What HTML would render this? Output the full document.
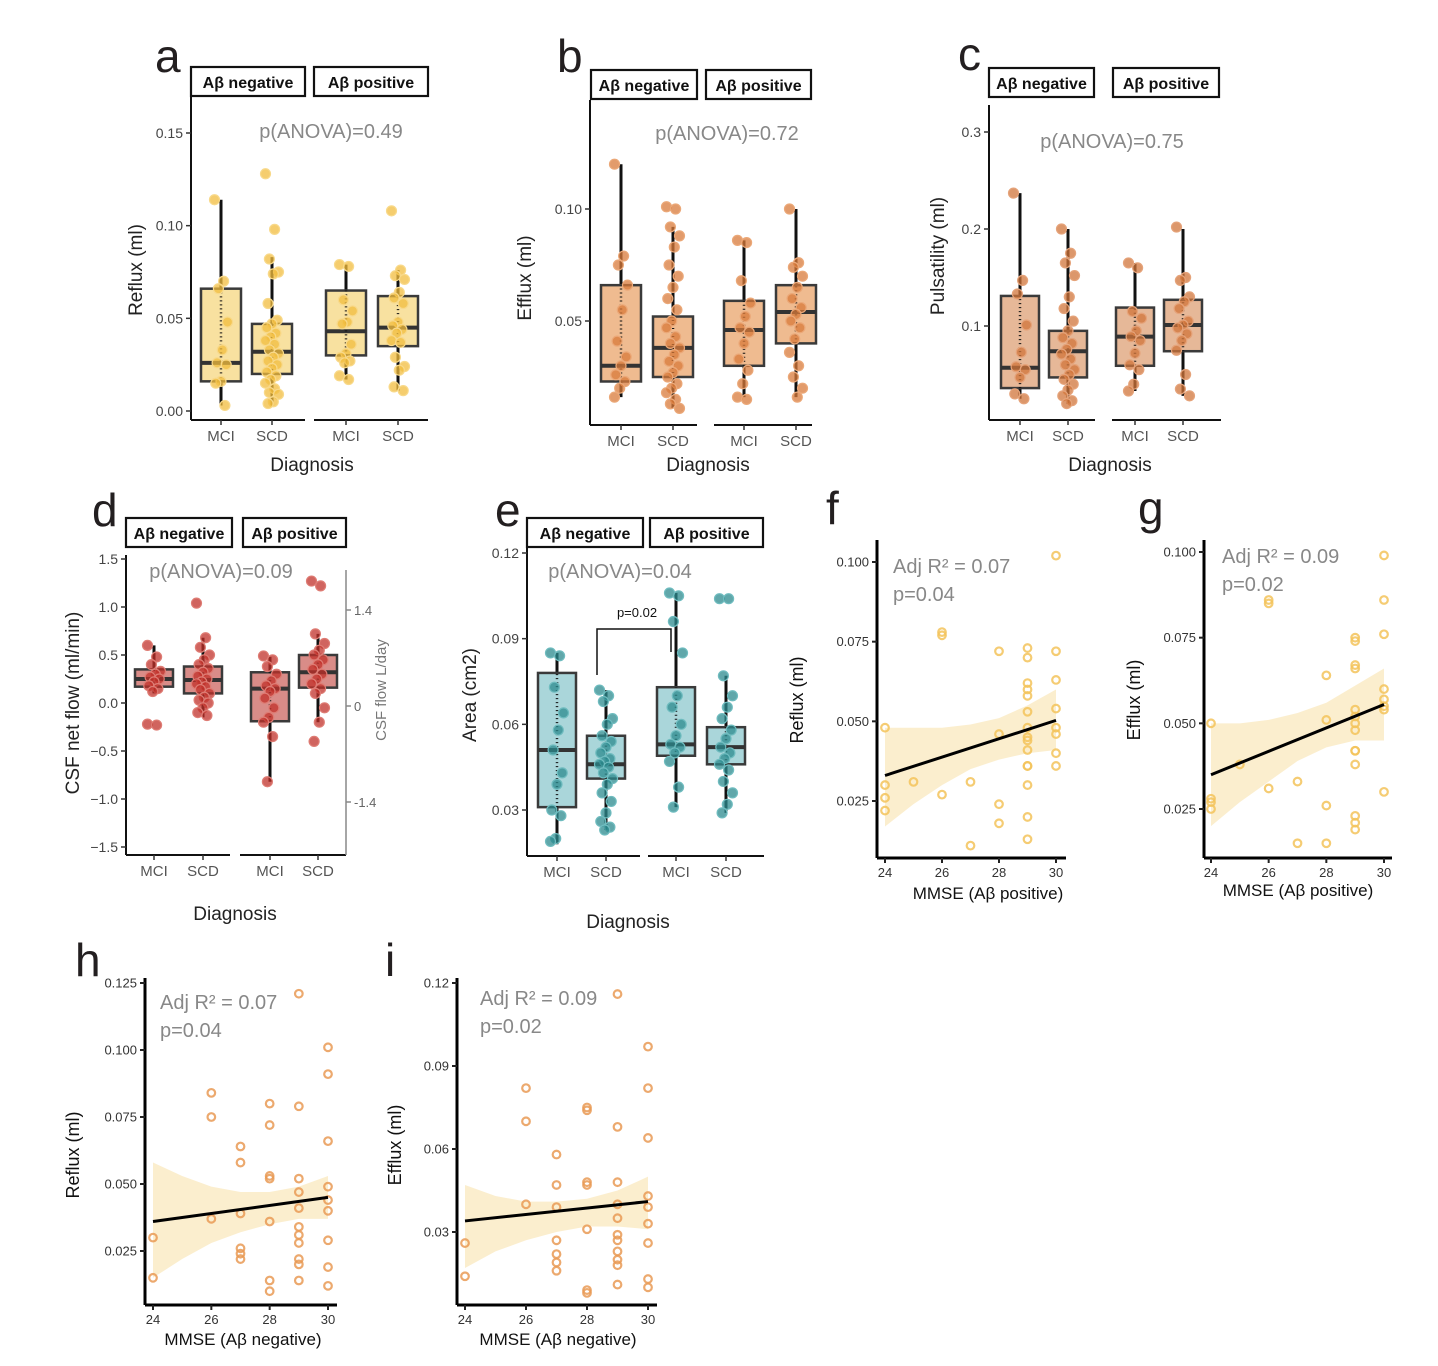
<!DOCTYPE html>
<html><head><meta charset="utf-8"><style>
html,body{margin:0;padding:0;background:#fff;}
svg{display:block;font-family:"Liberation Sans",sans-serif;}
</style></head><body>
<svg id="fig" width="1438" height="1366" viewBox="0 0 1438 1366" xmlns="http://www.w3.org/2000/svg"></svg>
<script>
// ---------- DATA ----------
const boxCategories = ["MCI","SCD","MCI","SCD"];
const facetLabels = ["Aβ negative","Aβ positive"];
// box stats per group: [whiskerLow, q1, median, q3, whiskerHigh]
const aBoxes = [[0.003,0.016,0.026,0.066,0.114],[0.003,0.020,0.032,0.047,0.083],[0.017,0.030,0.043,0.065,0.079],[0.011,0.035,0.045,0.062,0.076]];
const aPoints = [
 [0.114,0.070,0.066,0.048,0.033,0.026,0.025,0.016,0.015,0.003],
 [0.128,0.098,0.082,0.075,0.074,0.058,0.049,0.047,0.045,0.042,0.040,0.038,0.036,0.033,0.031,0.029,0.027,0.025,0.023,0.021,0.019,0.017,0.015,0.012,0.010,0.009,0.005,0.004],
 [0.079,0.078,0.060,0.054,0.048,0.047,0.036,0.031,0.029,0.027,0.026,0.019,0.017],
 [0.108,0.076,0.073,0.071,0.064,0.061,0.058,0.048,0.046,0.044,0.042,0.038,0.037,0.029,0.024,0.022,0.013,0.011]];
const aTicks = [0,0.05,0.10,0.15]; const aTickLabels = ["0.00","0.05","0.10","0.15"];

const bBoxes = [[0.016,0.023,0.030,0.066,0.120],[0.011,0.025,0.038,0.052,0.092],[0.016,0.030,0.046,0.059,0.086],[0.016,0.040,0.054,0.066,0.100]];
const bPoints = [
 [0.120,0.079,0.075,0.066,0.055,0.041,0.034,0.030,0.026,0.023,0.020,0.016],
 [0.101,0.100,0.092,0.088,0.083,0.075,0.070,0.065,0.060,0.055,0.050,0.047,0.043,0.040,0.038,0.035,0.032,0.030,0.027,0.025,0.022,0.020,0.018,0.015,0.013,0.011],
 [0.086,0.085,0.068,0.058,0.052,0.047,0.045,0.040,0.033,0.028,0.022,0.016,0.015],
 [0.100,0.076,0.074,0.070,0.065,0.060,0.056,0.053,0.050,0.047,0.042,0.036,0.030,0.025,0.020,0.016]];
const bTicks = [0.05,0.10]; const bTickLabels = ["0.05","0.10"];

const cBoxes = [[0.025,0.036,0.057,0.131,0.237],[0.020,0.047,0.074,0.095,0.200],[0.033,0.059,0.089,0.119,0.165],[0.028,0.074,0.101,0.127,0.200]];
const cPoints = [
 [0.237,0.147,0.133,0.101,0.073,0.058,0.055,0.047,0.030,0.025],
 [0.200,0.175,0.165,0.152,0.130,0.118,0.105,0.095,0.088,0.082,0.076,0.071,0.066,0.060,0.055,0.050,0.045,0.040,0.034,0.028,0.023,0.020],
 [0.165,0.160,0.115,0.108,0.095,0.089,0.085,0.072,0.060,0.055,0.040,0.033],
 [0.202,0.150,0.147,0.130,0.125,0.118,0.105,0.101,0.098,0.092,0.085,0.075,0.050,0.035,0.028]];
const cTicks = [0.1,0.2,0.3]; const cTickLabels = ["0.1","0.2","0.3"];

const dBoxes = [[0.10,0.17,0.25,0.35,0.60],[-0.15,0.10,0.24,0.38,0.68],[-0.82,-0.19,0.15,0.32,0.48],[-0.20,0.16,0.32,0.50,0.72]];
const dPoints = [
 [0.60,0.48,0.40,0.33,0.30,0.27,0.25,0.22,0.18,0.15,0.12,-0.22,-0.23],
 [1.04,0.68,0.58,0.50,0.45,0.40,0.36,0.32,0.28,0.25,0.22,0.20,0.17,0.14,0.10,0.06,0.03,0.0,-0.05,-0.10,-0.13],
 [0.49,0.45,0.38,0.30,0.23,0.18,0.15,0.12,0.05,-0.05,-0.15,-0.20,-0.35,-0.82],
 [1.27,1.22,0.72,0.62,0.55,0.50,0.45,0.40,0.35,0.30,0.25,0.20,0.15,0.10,-0.05,-0.20,-0.40]];
const dTicks = [-1.5,-1.0,-0.5,0,0.5,1.0,1.5]; const dTickLabels = ["−1.5","−1.0","−0.5","0.0","0.5","1.0","1.5"];
const dRightTicks = [1.0,0,-1.0]; const dRightLabels = ["1.4","0","-1.4"];

const eBoxes = [[0.018,0.031,0.051,0.078,0.085],[0.023,0.041,0.046,0.056,0.072],[0.031,0.049,0.053,0.073,0.106],[0.029,0.046,0.052,0.059,0.077]];
const ePoints = [
 [0.085,0.084,0.073,0.064,0.058,0.051,0.043,0.039,0.030,0.028,0.020,0.019],
 [0.072,0.070,0.068,0.062,0.060,0.056,0.054,0.052,0.050,0.048,0.047,0.046,0.045,0.043,0.041,0.039,0.036,0.033,0.029,0.026,0.024,0.023],
 [0.106,0.105,0.096,0.085,0.070,0.066,0.060,0.056,0.053,0.052,0.050,0.047,0.038,0.031],
 [0.104,0.104,0.077,0.070,0.066,0.062,0.058,0.055,0.052,0.050,0.048,0.046,0.044,0.040,0.036,0.032,0.029]];
const eTicks = [0.03,0.06,0.09,0.12]; const eTickLabels = ["0.03","0.06","0.09","0.12"];

const mmseTicks = [24,26,28,30];
const bandX = [24,25,26,27,28,29,30];
const fX = [24,24,24,24,25,26,26,26,27,27,28,28,28,28,29,29,29,29,29,29,29,29,29,29,29,29,29,29,29,30,30,30,30,30,30,30,30];
const fY = [0.048,0.030,0.026,0.022,0.031,0.078,0.077,0.027,0.031,0.011,0.072,0.046,0.024,0.018,0.073,0.070,0.062,0.060,0.058,0.053,0.048,0.045,0.044,0.041,0.036,0.036,0.030,0.020,0.013,0.102,0.072,0.063,0.054,0.048,0.046,0.040,0.036];
const fFit = [0.033,0.0503]; const fUpper = [0.048,0.048,0.048,0.049,0.051,0.055,0.060]; const fLower = [0.017,0.024,0.030,0.035,0.038,0.040,0.041];
const fTicks = [0.025,0.050,0.075,0.100]; const fTickLabels = ["0.025","0.050","0.075","0.100"];

const gX = [24,24,24,24,25,26,26,26,27,27,28,28,28,28,29,29,29,29,29,29,29,29,29,29,29,29,29,29,30,30,30,30,30,30,30,30];
const gY = [0.050,0.028,0.027,0.025,0.038,0.086,0.085,0.031,0.033,0.015,0.064,0.051,0.026,0.015,0.075,0.074,0.067,0.066,0.054,0.052,0.050,0.048,0.042,0.042,0.038,0.023,0.021,0.019,0.099,0.086,0.076,0.060,0.057,0.055,0.054,0.030];
const gFit = [0.035,0.0555]; const gUpper = [0.050,0.050,0.051,0.053,0.056,0.061,0.066]; const gLower = [0.020,0.027,0.033,0.039,0.043,0.045,0.045];
const gTicks = [0.025,0.050,0.075,0.100]; const gTickLabels = ["0.025","0.050","0.075","0.100"];

const hX = [24,24,26,26,26,27,27,27,27,27,27,28,28,28,28,28,28,28,29,29,29,29,29,29,29,29,29,29,29,30,30,30,30,30,30,30,30,30];
const hY = [0.030,0.015,0.084,0.075,0.037,0.064,0.058,0.039,0.026,0.024,0.022,0.080,0.072,0.053,0.052,0.036,0.014,0.010,0.121,0.079,0.052,0.047,0.041,0.034,0.031,0.028,0.022,0.020,0.014,0.101,0.091,0.066,0.049,0.044,0.040,0.029,0.019,0.012];
const hFit = [0.036,0.045]; const hUpper = [0.058,0.053,0.049,0.047,0.047,0.049,0.053]; const hLower = [0.015,0.022,0.028,0.032,0.035,0.037,0.037];
const hTicks = [0.025,0.050,0.075,0.100,0.125]; const hTickLabels = ["0.025","0.050","0.075","0.100","0.125"];

const iX = [24,24,26,26,26,27,27,27,27,27,27,27,28,28,28,28,28,28,28,29,29,29,29,29,29,29,29,29,29,29,30,30,30,30,30,30,30,30,30];
const iY = [0.026,0.014,0.082,0.070,0.040,0.058,0.047,0.039,0.027,0.022,0.019,0.016,0.075,0.074,0.048,0.047,0.031,0.009,0.008,0.116,0.068,0.048,0.040,0.035,0.029,0.027,0.023,0.020,0.018,0.011,0.097,0.082,0.064,0.043,0.039,0.033,0.026,0.013,0.010];
const iFit = [0.034,0.041]; const iUpper = [0.047,0.043,0.041,0.041,0.042,0.045,0.050]; const iLower = [0.017,0.023,0.027,0.030,0.032,0.032,0.031];
const iTicks = [0.03,0.06,0.09,0.12]; const iTickLabels = ["0.03","0.06","0.09","0.12"];

// ---------- HELPERS ----------
const NS = "http://www.w3.org/2000/svg";
const fig = document.getElementById("fig");
function mk(tag, attrs, parent, text){
  const el = document.createElementNS(NS, tag);
  for (const k in attrs) el.setAttribute(k, attrs[k]);
  if (text !== undefined) el.textContent = text;
  (parent || fig).appendChild(el);
  return el;
}
function lin(v1,p1,v2,p2){ return v => p1 + (v - v1) * (p2 - p1) / (v2 - v1); }

function textEl(parent, x, y, str, size, color, anchor, name, extra){
  const t = mk("text", Object.assign({x:x, y:y, "font-size":size, fill:color, "text-anchor":anchor||"middle"}, extra||{}), parent, str);
  
  
  return t;
}

function boxPanel(c){
  const g = mk("g", {}, fig);
  
  
  const y = lin(c.v1, c.p1, c.v2, c.p2);
  textEl(g, c.letterX, c.letterY, c.id, 46, "#231f20", "start", "panel-letter-" + c.id);
  // facet headers
  c.facets.forEach((f, k) => {
    const r = mk("rect", {x:f[0], y:f[1], width:f[2]-f[0], height:29, fill:"#fff", stroke:"#111", "stroke-width":2.2}, g);
    
    
    textEl(g, (f[0]+f[2])/2, f[1]+21, facetLabels[k], 16, "#111", "middle", "facet-label", {"font-weight":"bold"});
  });
  // y axis
  const ax = mk("line", {x1:c.axX, y1:c.axTop, x2:c.axX, y2:c.axBot, stroke:"#111", "stroke-width":2}, g);
  
  
  c.ticks.forEach((v, k) => {
    const tk = mk("line", {x1:c.axX-5, y1:y(v), x2:c.axX, y2:y(v), stroke:"#333", "stroke-width":1.5}, g);
    
    
    textEl(g, c.axX-8, y(v)+5, c.tickLabels[k], 14, "#444", "end", "y-tick-label");
  });
  // x axis segments
  c.xSegs.forEach(s => {
    const l = mk("line", {x1:s[0], y1:c.axBot, x2:s[1], y2:c.axBot, stroke:"#111", "stroke-width":2}, g);
    
    
  });
  c.catX.forEach((cx, k) => {
    const tk = mk("line", {x1:cx, y1:c.axBot, x2:cx, y2:c.axBot+5, stroke:"#333", "stroke-width":1.5}, g);
    
    
    textEl(g, cx, c.axBot+21, boxCategories[k], 15, "#555", "middle", "x-tick-label");
  });
  textEl(g, c.xlabX, c.xlabY, "Diagnosis", 19, "#222", "middle", "x-axis-title");
  textEl(g, 0, 0, c.ylab, 19, "#222", "middle", "y-axis-title", {transform:"translate(" + c.ylabX + "," + c.ylabY + ") rotate(-90)"});
  textEl(g, c.annX, c.annY, c.ann, 20, "#888", "middle", "anova-annotation");
  // boxes
  const hw = c.hw;
  c.boxes.forEach((b, k) => {
    const cx = c.catX[k];
    const wl = mk("line", {x1:cx, y1:y(b[0]), x2:cx, y2:y(b[4]), stroke:"#111", "stroke-width":3}, g);
    
    
    const r = mk("rect", {x:cx-hw, y:y(b[3]), width:2*hw, height:y(b[1])-y(b[3]), fill:c.boxFill, stroke:"#3a3a3a", "stroke-width":2.5}, g);
    
    
    const md = mk("line", {x1:cx-hw, y1:y(b[2]), x2:cx+hw, y2:y(b[2]), stroke:"#333", "stroke-width":4}, g);
    
    
    const wl2 = mk("line", {x1:cx, y1:y(b[1]), x2:cx, y2:y(b[3]), stroke:"#111", "stroke-width":2.5, "stroke-dasharray":"1 3"}, g);
    
    
  });
  c.points.forEach((arr, k) => {
    const cx = c.catX[k];
    arr.forEach((v, j) => {
      const off = ((j * 7) % 11 - 5) * 1.3;
      const p = mk("circle", {cx:cx+off, cy:y(v), r:5, fill:c.ptColor, "fill-opacity":0.75, stroke:c.ptStroke, "stroke-width":1.2}, g);
      
      
    });
  });
  return {g:g, y:y};
}

function scatterPanel(c){
  const g = mk("g", {}, fig);
  
  
  const x = lin(24, c.x24, 30, c.x30);
  const y = lin(c.v1, c.p1, c.v2, c.p2);
  textEl(g, c.letterX, c.letterY, c.id, 46, "#231f20", "start", "panel-letter-" + c.id);
  // band
  let d = "";
  bandX.forEach((bx, k) => { d += (k ? "L" : "M") + x(bx) + "," + y(c.upper[k]); });
  for (let k = bandX.length - 1; k >= 0; k--) d += "L" + x(bandX[k]) + "," + y(c.lower[k]);
  const band = mk("path", {d:d + "Z", fill:c.bandFill, "fill-opacity":0.9}, g);
  
  
  c.xs.forEach((xv, k) => {
    const p = mk("circle", {cx:x(xv), cy:y(c.ys[k]), r:3.8, fill:"none", stroke:c.ptColor, "stroke-width":2.2, "stroke-opacity":0.85}, g);
    
    
  });
  const fl = mk("line", {x1:x(24), y1:y(c.fit[0]), x2:x(30), y2:y(c.fit[1]), stroke:"#000", "stroke-width":3}, g);
  
  
  const ax = mk("line", {x1:c.axX, y1:c.axTop, x2:c.axX, y2:c.axBot, stroke:"#000", "stroke-width":3}, g);
  
  
  const xa = mk("line", {x1:c.axX, y1:c.axBot, x2:c.axRight, y2:c.axBot, stroke:"#000", "stroke-width":3}, g);
  
  
  c.ticks.forEach((v, k) => {
    const tk = mk("line", {x1:c.axX-5, y1:y(v), x2:c.axX, y2:y(v), stroke:"#222", "stroke-width":2}, g);
    
    
    textEl(g, c.axX-8, y(v)+4.5, c.tickLabels[k], 13, "#333", "end", "y-tick-label");
  });
  mmseTicks.forEach(v => {
    const tk = mk("line", {x1:x(v), y1:c.axBot, x2:x(v), y2:c.axBot+5, stroke:"#222", "stroke-width":2}, g);
    
    
    textEl(g, x(v), c.axBot+19, String(v), 13, "#333", "middle", "x-tick-label");
  });
  textEl(g, c.xlabX, c.xlabY, c.xlab, 17, "#111", "middle", "x-axis-title");
  textEl(g, 0, 0, c.ylab, 18, "#111", "middle", "y-axis-title", {transform:"translate(" + c.ylabX + "," + c.ylabY + ") rotate(-90)"});
  textEl(g, c.annX, c.annY, c.ann1, 20, "#888", "start", "r2-annotation");
  textEl(g, c.annX, c.annY+28, c.ann2, 20, "#888", "start", "p-annotation");
}

// ---------- PANELS ----------
boxPanel({id:"a", letterX:155, letterY:72, v1:0.15, p1:133, v2:0, p2:411, axX:191, axTop:97, axBot:420,
  facets:[[191,67,305],[314,67,428]], xSegs:[[191,305],[314,428]], catX:[221,272,346,398], hw:20,
  ticks:aTicks, tickLabels:aTickLabels, xlabX:312, xlabY:471, ylab:"Reflux (ml)", ylabX:142, ylabY:270,
  annX:331, annY:138, ann:"p(ANOVA)=0.49", boxes:aBoxes, points:aPoints, boxFill:"#f8e1a0", ptColor:"#f1bc3d", ptStroke:"#f8d98a"});

boxPanel({id:"b", letterX:557, letterY:72, v1:0.10, p1:209, v2:0.05, p2:321, axX:590, axTop:100, axBot:425,
  facets:[[591,70,697],[706,70,811]], xSegs:[[590,697],[714,812]], catX:[621,673,744,796], hw:20,
  ticks:bTicks, tickLabels:bTickLabels, xlabX:708, xlabY:471, ylab:"Efflux (ml)", ylabX:531, ylabY:278,
  annX:727, annY:140, ann:"p(ANOVA)=0.72", boxes:bBoxes, points:bPoints, boxFill:"#efbb90", ptColor:"#d8793a", ptStroke:"#eba878"});

boxPanel({id:"c", letterX:958, letterY:70, v1:0.3, p1:132, v2:0.1, p2:326, axX:989, axTop:105, axBot:420,
  facets:[[989,68,1094],[1113,68,1219]], xSegs:[[989,1095],[1112,1221]], catX:[1020,1068,1135,1183], hw:19,
  ticks:cTicks, tickLabels:cTickLabels, xlabX:1110, xlabY:471, ylab:"Pulsatility (ml)", ylabX:944, ylabY:256,
  annX:1112, annY:148, ann:"p(ANOVA)=0.75", boxes:cBoxes, points:cPoints, boxFill:"#e6b898", ptColor:"#d0743a", ptStroke:"#e5a37a"});

const dp = boxPanel({id:"d", letterX:92, letterY:526, v1:1.5, p1:559, v2:-1.5, p2:847, axX:126, axTop:555, axBot:855,
  facets:[[126,518,232],[243,518,346]], xSegs:[[126,230],[240,346]], catX:[154,203,270,318], hw:19,
  ticks:dTicks, tickLabels:dTickLabels, xlabX:235, xlabY:920, ylab:"CSF net flow (ml/min)", ylabX:79, ylabY:703,
  annX:221, annY:578, ann:"p(ANOVA)=0.09", boxes:dBoxes, points:dPoints, boxFill:"#d98c88", ptColor:"#c0302a", ptStroke:"#de7c74"});
// secondary axis for panel d
(function(){
  const ra = mk("line", {x1:346, y1:570, x2:346, y2:855, stroke:"#888", "stroke-width":1.5}, dp.g);
  
  
  dRightTicks.forEach((v, k) => {
    const tk = mk("line", {x1:346, y1:dp.y(v)+3, x2:351, y2:dp.y(v)+3, stroke:"#888", "stroke-width":1.5}, dp.g);
    
    
    textEl(dp.g, 354, dp.y(v)+8, dRightLabels[k], 13, "#666", "start", "secondary-y-tick-label");
  });
  textEl(dp.g, 0, 0, "CSF flow L/day", 15, "#777", "middle", "secondary-y-axis-title", {transform:"translate(386,690) rotate(-90)"});
})();

const ep = boxPanel({id:"e", letterX:495, letterY:526, v1:0.12, p1:553, v2:0.03, p2:810, axX:527, axTop:545, axBot:856,
  facets:[[527,518,643],[650,518,763]], xSegs:[[527,640],[648,764]], catX:[557,606,676,726], hw:19,
  ticks:eTicks, tickLabels:eTickLabels, xlabX:628, xlabY:928, ylab:"Area (cm2)", ylabX:476, ylabY:695,
  annX:620, annY:578, ann:"p(ANOVA)=0.04", boxes:eBoxes, points:ePoints, boxFill:"#aad6da", ptColor:"#2b8a8e", ptStroke:"#6fbcbf"});
(function(){
  const br = mk("path", {d:"M597,675 L597,629 L671,629 L671,652", fill:"none", stroke:"#111", "stroke-width":1.5}, ep.g);
  
  
  textEl(ep.g, 637, 617, "p=0.02", 13, "#111", "middle", "significance-label");
})();

scatterPanel({id:"f", letterX:826, letterY:524, x24:885, x30:1056, v1:0.100, p1:562, v2:0.025, p2:801,
  axX:877, axTop:540, axBot:858, axRight:1066, ticks:fTicks, tickLabels:fTickLabels,
  xs:fX, ys:fY, fit:fFit, upper:fUpper, lower:fLower, ptColor:"#f3c35a", bandFill:"#fbecc9",
  xlab:"MMSE (Aβ positive)", xlabX:988, xlabY:899, ylab:"Reflux (ml)", ylabX:803, ylabY:700,
  annX:893, annY:573, ann1:"Adj R² = 0.07", ann2:"p=0.04"});

scatterPanel({id:"g", letterX:1138, letterY:524, x24:1211, x30:1384, v1:0.100, p1:552, v2:0.025, p2:809,
  axX:1204, axTop:540, axBot:858, axRight:1392, ticks:gTicks, tickLabels:gTickLabels,
  xs:gX, ys:gY, fit:gFit, upper:gUpper, lower:gLower, ptColor:"#f3c35a", bandFill:"#fbecc9",
  xlab:"MMSE (Aβ positive)", xlabX:1298, xlabY:896, ylab:"Efflux (ml)", ylabX:1140, ylabY:700,
  annX:1222, annY:563, ann1:"Adj R² = 0.09", ann2:"p=0.02"});

scatterPanel({id:"h", letterX:75, letterY:976, x24:153, x30:328, v1:0.125, p1:983, v2:0.025, p2:1251,
  axX:145, axTop:978, axBot:1305, axRight:337, ticks:hTicks, tickLabels:hTickLabels,
  xs:hX, ys:hY, fit:hFit, upper:hUpper, lower:hLower, ptColor:"#e99a55", bandFill:"#fbecc9",
  xlab:"MMSE (Aβ negative)", xlabX:243, xlabY:1345, ylab:"Reflux (ml)", ylabX:79, ylabY:1155,
  annX:160, annY:1009, ann1:"Adj R² = 0.07", ann2:"p=0.04"});

scatterPanel({id:"i", letterX:385, letterY:976, x24:465, x30:648, v1:0.12, p1:983, v2:0.03, p2:1232,
  axX:457, axTop:978, axBot:1305, axRight:657, ticks:iTicks, tickLabels:iTickLabels,
  xs:iX, ys:iY, fit:iFit, upper:iUpper, lower:iLower, ptColor:"#e99a55", bandFill:"#fbecc9",
  xlab:"MMSE (Aβ negative)", xlabX:558, xlabY:1345, ylab:"Efflux (ml)", ylabX:401, ylabY:1145,
  annX:480, annY:1005, ann1:"Adj R² = 0.09", ann2:"p=0.02"});
</script>
</body></html>
